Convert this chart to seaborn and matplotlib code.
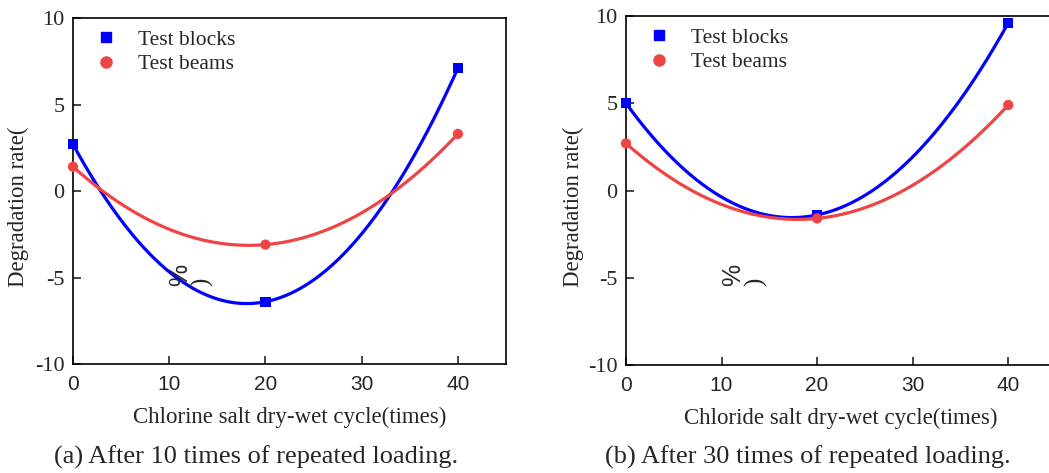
import numpy as np
import seaborn as sns
import matplotlib.pyplot as plt
from matplotlib.lines import Line2D

# values
cycles = [0, 20, 40]
blocks_a = [2.7, -6.4, 7.1]
beams_a = [1.4, -3.1, 3.3]
blocks_b = [5.0, -1.4, 9.6]
beams_b = [2.7, -1.6, 4.9]

series_names = ["Test blocks", "Test beams"]
x_labels = ["Chlorine salt dry-wet cycle(times)", "Chloride salt dry-wet cycle(times)"]
captions = ["(a) After 10 times of repeated loading.", "(b) After 30 times of repeated loading."]
x_ticks = [0, 10, 20, 30, 40]
y_ticks = [-10, -5, 0, 5, 10]

BLUE = "#0000ff"
RED = "#ef4444"

sns.set_style("ticks")
plt.rcParams["font.family"] = ["Liberation Serif", "DejaVu Serif"]
plt.rcParams["axes.unicode_minus"] = False
plt.rcParams["axes.linewidth"] = 1.2

fig = plt.figure(figsize=(10.49, 4.73), dpi=100)
W, H = 1049, 473


def px_axes(left, top, right, bottom):
    return fig.add_axes([left / W, 1 - bottom / H, (right - left) / W, (bottom - top) / H])


def draw_panel(ax, blocks, beams, xlabel):
    fine = np.linspace(0, 40, 300)
    for vals, color, marker, name in [(blocks, BLUE, "s", series_names[0]),
                                      (beams, RED, "o", series_names[1])]:
        coef = np.polyfit(cycles, vals, 2)
        sns.lineplot(x=fine, y=np.polyval(coef, fine), color=color, lw=2.3, ax=ax)
        sns.scatterplot(x=cycles, y=vals, marker=marker, s=55, color=color,
                        edgecolor="none", ax=ax, clip_on=False, zorder=5)

    ax.set_xlim(0, 45)
    ax.set_ylim(-10, 10)
    ax.set_xticks(x_ticks)
    ax.set_yticks(y_ticks)
    ax.tick_params(direction="in", length=6, width=1.2, labelsize=15,
                   top=False, right=False)
    ax.tick_params(axis="y", labelsize=16, pad=6)
    ax.tick_params(axis="x", pad=8)
    for lbl in ax.get_xticklabels():
        lbl.set_family("Liberation Sans")
    ax.set_xlabel(xlabel, fontsize=16.5, labelpad=9)
    ax.set_ylabel("")
    for s in ax.spines.values():
        s.set_visible(True)
        s.set_color("black")

    handles = [Line2D([], [], marker="s", ls="none", color=BLUE, markersize=7.5),
               Line2D([], [], marker="o", ls="none", color=RED, markersize=8)]
    ax.legend(handles, series_names, loc="upper left", bbox_to_anchor=(0.025, 1.0),
              frameon=False, fontsize=15.5, handlelength=1.0, handletextpad=0.95,
              labelspacing=0.2, borderaxespad=0.15)


ax_a = px_axes(73, 18, 506, 364)
draw_panel(ax_a, blocks_a, beams_a, x_labels[0])
ax_b = px_axes(626, 16, 1056, 365)
draw_panel(ax_b, blocks_b, beams_b, x_labels[1])

# broken y label pieces, as in the source figure
for x_lab, x_pct, x_par in [(18, 180, 202), (573, 733, 756)]:
    fig.text(x_lab / W, 1 - 207 / H, "Degradation rate(", rotation=90,
             ha="center", va="center", fontsize=16.5)
    fig.text(x_pct / W, 1 - 275 / H, "%", rotation=90,
             ha="center", va="center", fontsize=18, family="Liberation Sans")
    fig.text(x_par / W, 1 - 282 / H, ")", rotation=90,
             ha="center", va="center", fontsize=18)

fig.text(256 / W, 1 - 457 / H, captions[0], ha="center", va="center", fontsize=19)
fig.text(808 / W, 1 - 457 / H, captions[1], ha="center", va="center", fontsize=19)

fig.savefig("out.png", dpi=100)
